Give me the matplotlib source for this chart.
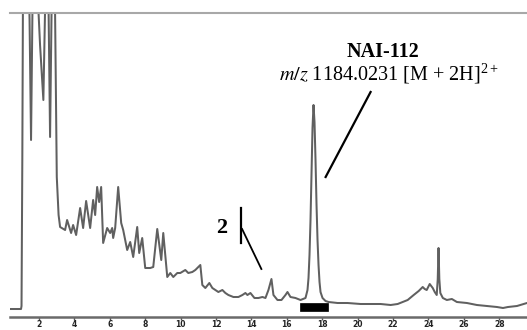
import matplotlib
matplotlib.use("Agg")
import matplotlib.pyplot as plt
from matplotlib.patches import Rectangle

# Retention time (min) and detector response (arbitrary units)
time_min = [0.358, 0.981, 1.009, 1.054, 1.094, 1.207, 1.320, 1.462, 1.547, 1.620,
            1.716, 1.886, 1.971, 2.056, 2.243, 2.339, 2.452, 2.537, 2.622, 2.707,
            2.792, 2.905, 3.001, 3.103, 3.188, 3.471, 3.584, 3.811, 3.924, 4.094,
            4.320, 4.490, 4.659, 4.886, 5.055, 5.169, 5.282, 5.395, 5.508, 5.621,
            5.848, 6.018, 6.131, 6.187, 6.300, 6.470, 6.640, 6.753, 6.979, 7.149,
            7.319, 7.545, 7.658, 7.828, 7.998, 8.281, 8.451, 8.677, 8.904, 9.017,
            9.243, 9.413, 9.583, 9.809, 9.979, 10.262, 10.432, 10.658, 10.828, 10.998,
            11.111, 11.224, 11.394, 11.620, 11.790, 11.960, 12.130, 12.356, 12.526, 12.696,
            12.979, 13.262, 13.488, 13.658, 13.771, 13.941, 14.168, 14.394, 14.620, 14.790,
            14.959, 15.129, 15.242, 15.469, 15.695, 15.921, 16.034, 16.204, 16.487, 16.770,
            17.053, 17.166, 17.223, 17.279, 17.336, 17.392, 17.449, 17.506, 17.562, 17.619,
            17.676, 17.732, 17.789, 17.845, 17.902, 18.015, 18.185, 18.355, 18.864, 19.430,
            20.166, 21.298, 21.864, 22.260, 22.543, 22.826, 23.165, 23.448, 23.675, 23.788,
            23.901, 24.071, 24.241, 24.354, 24.467, 24.524, 24.569, 24.614, 24.670, 24.812,
            25.039, 25.322, 25.605, 26.171, 26.737, 27.303, 27.869, 28.209, 28.492, 29.001,
            29.567]
signal = [0, 0, 3, 150, 330, 450, 420, 290, 169, 290,
          430, 400, 296, 264, 209, 300, 400, 300, 172, 300,
          420, 296, 132, 94, 82, 79, 89, 76, 84, 74,
          101, 81, 108, 81, 109, 94, 122, 107, 122, 66,
          81, 76, 81, 71, 81, 122, 86, 79, 59, 67,
          52, 82, 56, 71, 41, 41, 42, 80, 49, 76,
          32, 36, 32, 36, 36, 39, 36, 37, 39, 42,
          44, 24, 21, 26, 21, 19, 17, 19, 16, 14,
          12, 12, 14, 16, 14, 16, 11, 11, 12, 11,
          19, 30, 14, 9, 9, 14, 17, 12, 11, 9,
          11, 19, 31, 54, 89, 137, 181, 204, 187, 149,
          104, 69, 44, 27, 17, 11, 8, 7, 6, 6,
          5, 5, 4, 5, 7, 9, 14, 18, 22, 20,
          19, 25, 21, 17, 14, 30, 61, 30, 16, 11,
          9, 10, 7, 6, 4, 3, 2, 1, 2, 3,
          6]

x_ticks = [2, 4, 6, 8, 10, 12, 14, 16, 18, 20, 22, 24, 26, 28]
fraction_start, fraction_end = 16.77, 18.30

plt.rcParams['mathtext.fontset'] = 'stix'
fig = plt.figure(figsize=(5.27, 3.30), dpi=100)
ax = fig.add_axes([10 / 527, 13 / 330, 517 / 527, 304 / 330])

ax.plot(time_min, signal, color='#606060', lw=1.45, solid_joinstyle='round',
        solid_capstyle='round')
ax.set_xlim(0.358, 29.567)
ax.set_ylim(-8, 296)

ax.add_patch(Rectangle((fraction_start, -2), fraction_end - fraction_start, 8,
                       facecolor='black', edgecolor='black', lw=0.5, zorder=3))

for s in ['left', 'right']:
    ax.spines[s].set_visible(False)
ax.spines['top'].set_color('#a8a8a8')
ax.spines['top'].set_linewidth(1.5)
ax.spines['bottom'].set_color('#6a6a6a')
ax.spines['bottom'].set_linewidth(1.8)

ax.set_xticks(x_ticks)
ax.set_xticklabels([str(t) for t in x_ticks], fontsize=5.5, fontweight='bold',
                   color='#222222')
ax.tick_params(axis='x', direction='out', length=2.0, width=1, color='#555555', pad=0.5)
ax.set_yticks([])

serif = ['Liberation Serif', 'DejaVu Serif']
ax.text(21.4, 257, 'NAI-112', ha='center', va='center', fontsize=14.5,
        fontweight='bold', family=serif)
ax.text(21.75, 235, r'$\mathit{m/z}$ 1184.0231 [M + 2H]$^{\mathregular{2+}}$', ha='center',
        va='center', fontsize=14.5, family=serif)
ax.plot([20.73, 18.19], [217, 132], color='black', lw=1.6)

ax.text(12.30, 81, '2', ha='center', va='center', fontsize=16, fontweight='bold',
        family=serif)
ax.plot([13.41, 13.41], [101, 66], color='black', lw=1.6)
ax.plot([13.47, 14.56], [80, 40], color='black', lw=1.3)

fig.savefig('out.png', dpi=100)
